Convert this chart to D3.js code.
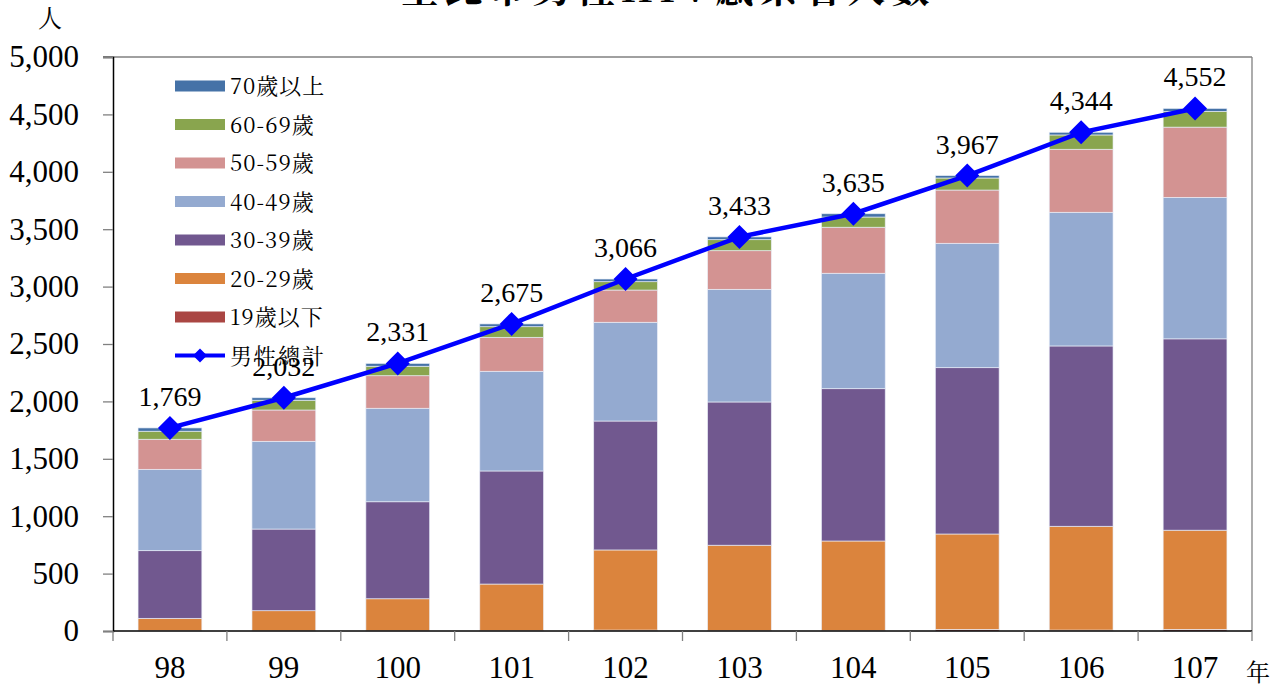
<!DOCTYPE html>
<html><head><meta charset="utf-8">
<script src="https://cdn.jsdelivr.net/npm/d3@7"></script>
<style>body{margin:0;background:#fff}svg{display:block}</style>
</head><body>
<svg id="c" width="1279" height="691"></svg>
<script>
const years = ["98","99","100","101","102","103","104","105","106","107"];
const seriesNames = ["19歲以下","20-29歲","30-39歲","40-49歲","50-59歲","60-69歲","70歲以上"];
const seriesColors = ["#AA4643","#DB843D","#71588F","#94AAD0","#D39392","#89A54E","#4572A7"];
const age19 = [3,2,2,3,8,3,3,14,8,14];
const age20 = [107,175,279,406,698,744,781,831,904,864];
const age30 = [590,711,845,985,1123,1248,1327,1449,1571,1667];
const age40 = [708,764,814,868,860,981,1005,1083,1164,1232];
const age50 = [262,273,284,296,281,337,401,464,549,612];
const age60 = [70,85,82,93,73,96,89,105,125,137];
const age70 = [29,22,25,24,23,24,29,21,23,26];
const totals = [1769,2032,2331,2675,3066,3433,3635,3967,4344,4552];
const totalName = "男性總計";
const yTicks = [0,500,1000,1500,2000,2500,3000,3500,4000,4500,5000];
const title = "臺北市男性HIV感染者人數";

const SERIF = '"Liberation Serif"';
const MING = '"Noto Serif CJK TC"';

const svg = d3.select("#c");
const L = 113, R = 1252, T = 57, B = 631;

const x = d3.scaleBand().domain(years).range([L, R]).paddingInner(0.44).paddingOuter(0.22);
const y = d3.scaleLinear().domain([0, 5000]).range([B, T]);

const seriesVals = [age19, age20, age30, age40, age50, age60, age70];
const rows = years.map((yr, i) => {
  const o = {year: yr};
  seriesNames.forEach((n, k) => o[n] = seriesVals[k][i]);
  return o;
});
const stacked = d3.stack().keys(seriesNames)(rows);

// title (partly cut off at top, as in the reference)
svg.append("text").attr("x", 668).attr("y", 2).attr("text-anchor", "middle")
  .style("font-family", MING).style("font-weight", "bold")
  .style("font-size", "38px").attr("letter-spacing", 6).text(title);

// frame top/right
svg.append("line").attr("x1", L - 10).attr("x2", R).attr("y1", T).attr("y2", T).attr("stroke", "#808080").attr("stroke-width", 1.3);
svg.append("line").attr("x1", R).attr("x2", R).attr("y1", T).attr("y2", B).attr("stroke", "#808080").attr("stroke-width", 1.3);

// bars
const g = svg.append("g");
stacked.forEach((s, k) => {
  g.selectAll(null).data(s).enter().append("rect")
    .attr("x", d => x(d.data.year))
    .attr("width", x.bandwidth())
    .attr("y", d => y(d[1]))
    .attr("height", d => Math.max(0, y(d[0]) - y(d[1])))
    .attr("fill", seriesColors[k])
    .attr("stroke", "rgba(235,240,250,0.8)").attr("stroke-width", 0.8);
});

// y axis
const yAxis = d3.axisLeft(y).tickValues(yTicks).tickSize(10).tickPadding(24)
  .tickFormat(d3.format(","));
const ya = svg.append("g").attr("transform", `translate(${L},0)`).call(yAxis);
ya.select(".domain").attr("stroke", "#000").attr("stroke-width", 1.5);
ya.selectAll(".tick line").attr("stroke", "#808080").attr("stroke-width", 1.3);
ya.selectAll(".tick text").style("font-family", SERIF).style("font-size", "31px").attr("fill", "#000");

// x axis
const xa = svg.append("g").attr("transform", `translate(0,${B})`);
xa.append("line").attr("x1", L).attr("x2", R).attr("y1", 0).attr("y2", 0).attr("stroke", "#000").attr("stroke-width", 1.5);
const bounds = years.map(yr => x(yr) - x.step() * x.paddingInner() / 2);
bounds.push(R);
xa.selectAll(null).data(bounds).enter().append("line")
  .attr("x1", d => d).attr("x2", d => d).attr("y1", 0).attr("y2", 10)
  .attr("stroke", "#808080").attr("stroke-width", 1.3);
xa.selectAll(null).data(years).enter().append("text")
  .attr("x", d => x(d) + x.bandwidth() / 2).attr("y", 47)
  .attr("text-anchor", "middle").style("font-family", SERIF).style("font-size", "31px").text(d => d);

// unit labels
svg.append("text").attr("x", 50).attr("y", 27).attr("text-anchor", "middle")
  .style("font-family", MING).style("font-size", "24px").text("人");
svg.append("text").attr("x", 1258).attr("y", 681).attr("text-anchor", "middle")
  .style("font-family", MING).style("font-size", "24px").text("年");

// total line
const cx = d => x(d) + x.bandwidth() / 2;
const line = d3.line().x((d, i) => cx(years[i])).y(d => y(d));
svg.append("path").datum(totals).attr("d", line).attr("fill", "none")
  .attr("stroke", "#0000FF").attr("stroke-width", 4.5);
const dia = r => `M0,${-r}L${r},0L0,${r}L${-r},0Z`;
svg.selectAll(null).data(totals).enter().append("path")
  .attr("d", dia(12)).attr("fill", "#0000FF")
  .attr("transform", (d, i) => `translate(${cx(years[i])},${y(d)})`);
svg.selectAll(null).data(totals).enter().append("text")
  .attr("x", (d, i) => cx(years[i])).attr("y", d => y(d) - 22)
  .attr("text-anchor", "middle").style("font-family", SERIF).style("font-size", "28px")
  .text(d => d3.format(",")(d));

// legend
const lg = svg.append("g");
const legendOrder = seriesNames.map((n, k) => ({n, c: seriesColors[k]})).reverse();
legendOrder.forEach((d, i) => {
  const yy = 86 + i * 38.5;
  lg.append("rect").attr("x", 175).attr("y", yy - 5.5).attr("width", 50).attr("height", 11).attr("fill", d.c);
  lg.append("text").attr("x", 230).attr("y", yy + 8).style("font-family", MING)
    .style("font-size", "22px").attr("letter-spacing", 1).text(d.n);
});
const ly = 86 + 7 * 38.5;
lg.append("line").attr("x1", 175).attr("x2", 225).attr("y1", ly).attr("y2", ly).attr("stroke", "#0000FF").attr("stroke-width", 4);
lg.append("path").attr("d", dia(7)).attr("fill", "#0000FF").attr("transform", `translate(200,${ly})`);
lg.append("text").attr("x", 230).attr("y", ly + 8).style("font-family", MING)
  .style("font-size", "22px").attr("letter-spacing", 2).text(totalName);
</script>
</body></html>
